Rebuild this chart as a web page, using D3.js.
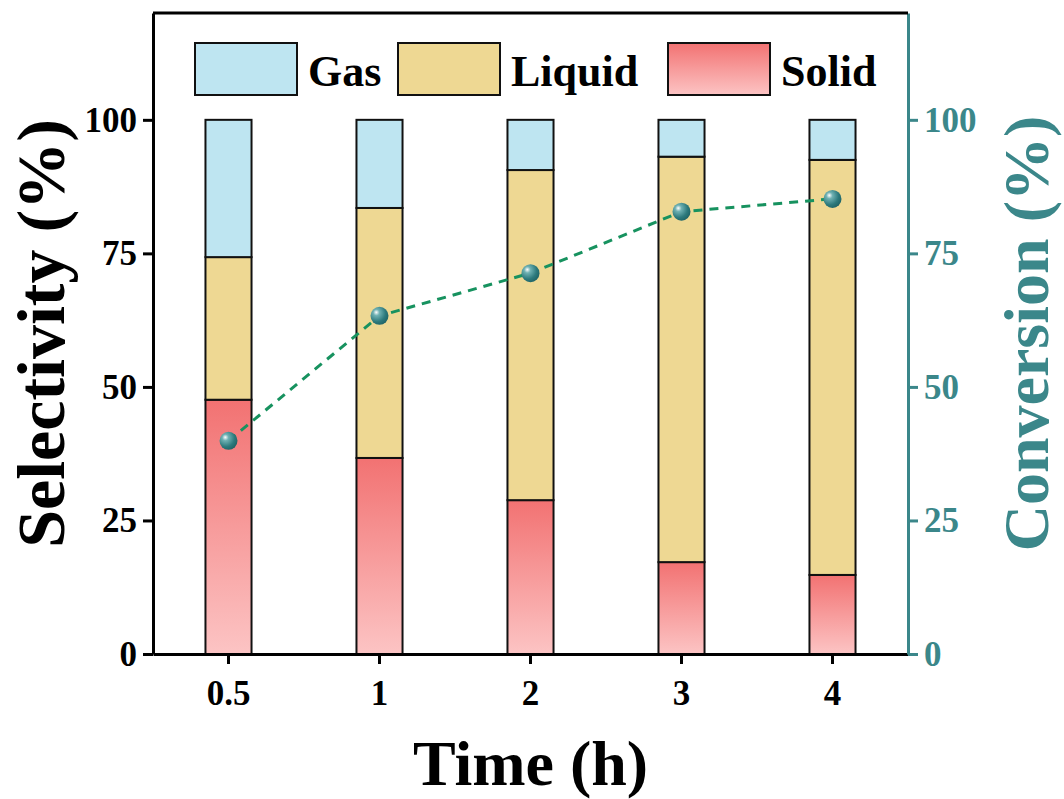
<!DOCTYPE html>
<html>
<head>
<meta charset="utf-8">
<script src="https://cdn.jsdelivr.net/npm/d3@7"></script>
<style>
  body { margin: 0; background: #fff; }
  svg text { font-family: "Times New Roman", "Liberation Serif", serif; font-weight: bold; }
</style>
</head>
<body>
<div id="chart"></div>
<script>
const times = ["0.5", "1", "2", "3", "4"];
const solid = [47.6, 36.7, 28.8, 17.2, 14.8];
const liquid = [26.7, 46.8, 61.8, 75.9, 77.7];
const gas = [25.7, 16.5, 9.4, 6.9, 7.5];
const conversion = [39.9, 63.3, 71.3, 82.8, 85.2];
const yTicks = [0, 25, 50, 75, 100];
const seriesNames = ["Solid", "Liquid", "Gas"];

const W = 1064, H = 799;
const margin = { top: 13, right: 156, bottom: 145, left: 153 },
  width = W - margin.left - margin.right,
  height = H - margin.top - margin.bottom;

const teal = "#3b878a";
const colors = { Gas: "#bee5f1", Liquid: "#eed893", Solid: "url(#grad-solid)" };

const svgRoot = d3.select("#chart").append("svg")
  .attr("width", W).attr("height", H);

const defs = svgRoot.append("defs");
const gs = defs.append("linearGradient").attr("id", "grad-solid")
  .attr("x1", "0%").attr("x2", "0%").attr("y1", "0%").attr("y2", "100%");
gs.append("stop").attr("offset", "0%").attr("stop-color", "#f27272");
gs.append("stop").attr("offset", "100%").attr("stop-color", "#fcc4c4");

const gb = defs.append("radialGradient").attr("id", "grad-ball")
  .attr("cx", "35%").attr("cy", "35%").attr("r", "70%").attr("fx", "32%").attr("fy", "30%");
gb.append("stop").attr("offset", "0%").attr("stop-color", "#ffffff");
gb.append("stop").attr("offset", "25%").attr("stop-color", "#6fb1b3");
gb.append("stop").attr("offset", "70%").attr("stop-color", "#2d7a7d");
gb.append("stop").attr("offset", "100%").attr("stop-color", "#1f6466");

const svg = svgRoot.append("g")
  .attr("transform", `translate(${margin.left},${margin.top})`);

const x = d3.scaleBand().domain(times).range([0, width]).paddingInner(0.695).paddingOuter(0.3475);
const y = d3.scaleLinear().domain([0, 120]).range([height, 0]);
const y2 = d3.scaleLinear().domain([0, 120]).range([height, 0]);

// stacked bars
const table = times.map((t, i) => ({ time: t, Solid: solid[i], Liquid: liquid[i], Gas: gas[i] }));
const stacked = d3.stack().keys(seriesNames)(table);

svg.selectAll(".layer")
  .data(stacked)
  .enter().append("g")
  .attr("class", "layer")
  .attr("fill", (d) => colors[d.key])
  .selectAll("rect")
  .data((d) => d)
  .enter().append("rect")
  .attr("x", (d) => x(d.data.time))
  .attr("y", (d) => y(d[1]))
  .attr("width", x.bandwidth())
  .attr("height", (d) => y(d[0]) - y(d[1]))
  .attr("stroke", "#111")
  .attr("stroke-width", 2);

// conversion line
const line = d3.line()
  .x((d, i) => x(times[i]) + x.bandwidth() / 2)
  .y((d) => y2(d));

svg.append("path")
  .datum(conversion)
  .attr("d", line)
  .attr("fill", "none")
  .attr("stroke", "#17925f")
  .attr("stroke-width", 3)
  .attr("stroke-dasharray", "9,7");

svg.selectAll(".ball")
  .data(conversion)
  .enter().append("circle")
  .attr("class", "ball")
  .attr("cx", (d, i) => x(times[i]) + x.bandwidth() / 2)
  .attr("cy", (d) => y2(d))
  .attr("r", 9)
  .attr("fill", "url(#grad-ball)");

// axes
const xAxis = svg.append("g")
  .attr("transform", `translate(0,${height})`)
  .call(d3.axisBottom(x).tickSize(10).tickPadding(16).tickSizeOuter(0));
xAxis.select(".domain").attr("stroke", "#000").attr("stroke-width", 3);
xAxis.selectAll(".tick line").attr("stroke", "#000").attr("stroke-width", 3);
xAxis.selectAll(".tick text").attr("fill", "#000").style("font-size", "35px");

const yAxis = svg.append("g")
  .call(d3.axisLeft(y).tickValues(yTicks).tickSize(10).tickPadding(6).tickSizeOuter(0));
yAxis.select(".domain").attr("stroke", "#000").attr("stroke-width", 3);
yAxis.selectAll(".tick line").attr("stroke", "#000").attr("stroke-width", 3);
yAxis.selectAll(".tick text").attr("fill", "#000").style("font-size", "35px");

const yAxisR = svg.append("g")
  .attr("transform", `translate(${width},0)`)
  .call(d3.axisRight(y2).tickValues(yTicks).tickSize(10).tickPadding(6).tickSizeOuter(0));
yAxisR.select(".domain").attr("stroke", teal).attr("stroke-width", 3);
yAxisR.selectAll(".tick line").attr("stroke", teal).attr("stroke-width", 3);
yAxisR.selectAll(".tick text").attr("fill", teal).style("font-size", "35px");

// top frame line
svg.append("line")
  .attr("x1", 0).attr("x2", width).attr("y1", 0).attr("y2", 0)
  .attr("stroke", "#000").attr("stroke-width", 3);

// legend
const legendItems = ["Gas", "Liquid", "Solid"];
const legendX = [42, 245, 515];
const legend = svg.selectAll(".legend")
  .data(legendItems)
  .enter().append("g")
  .attr("class", "legend")
  .attr("transform", (d, i) => `translate(${legendX[i]},30)`);
legend.append("rect")
  .attr("width", 102).attr("height", 52)
  .attr("fill", (d) => colors[d])
  .attr("stroke", "#111").attr("stroke-width", 2);
legend.append("text")
  .attr("x", 113).attr("y", 43)
  .style("font-size", "44px")
  .text((d) => d);

// axis titles
svgRoot.append("text")
  .attr("transform", `translate(64,${margin.top + y(60)}) rotate(-90)`)
  .attr("text-anchor", "middle")
  .style("font-size", "68px")
  .text("Selectivity (%)");

svgRoot.append("text")
  .attr("transform", `translate(1048,${margin.top + y(60)}) rotate(-90)`)
  .attr("text-anchor", "middle")
  .attr("fill", teal)
  .style("font-size", "64px")
  .text("Conversion (%)");

svgRoot.append("text")
  .attr("x", margin.left + width / 2)
  .attr("y", 785)
  .attr("text-anchor", "middle")
  .style("font-size", "64px")
  .text("Time (h)");
</script>
</body>
</html>
